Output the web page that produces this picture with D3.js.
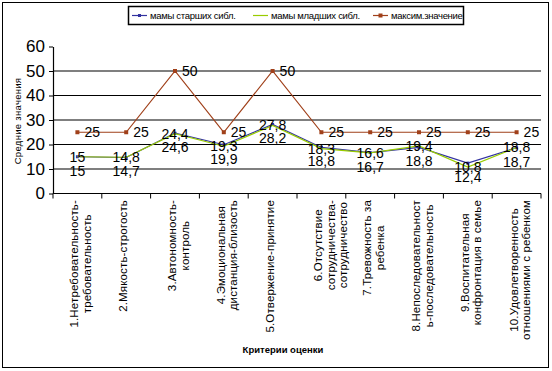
<!DOCTYPE html>
<html>
<head>
<meta charset="utf-8">
<script src="https://cdn.jsdelivr.net/npm/d3@7"></script>
<style>
  body { margin: 0; background: #fff; }
  text { font-family: Arial, "Liberation Sans", sans-serif; }
</style>
</head>
<body>
<svg id="chart" width="552" height="371"></svg>
<script>
// categories (multi-line tick labels)
const categories = [
  ["1.Нетребовательность-", "требовательность"],
  ["2.Мякость-строгость"],
  ["3.Автономность-", "контроль"],
  ["4.Эмоциональная", "дистанция-близость"],
  ["5.Отвержение-принятие"],
  ["6.Отсутствие", "сотрудничества-", "сотрудничество"],
  ["7.Тревожность за", "ребенка"],
  ["8.Непоследовательност", "ь-последовательность"],
  ["9.Воспитательная", "конфронтация в семье"],
  ["10.Удовлетворенность", "отношениями с ребенком"]
];
const olderSibl = [15, 14.7, 24.6, 19.9, 28.2, 18.8, 16.7, 18.8, 12.4, 18.7];
const youngerSibl = [15, 14.8, 24.4, 19.3, 27.8, 18.3, 16.6, 19.4, 10.8, 18.8];
const maxValue = [25, 25, 50, 25, 50, 25, 25, 25, 25, 25];
const yTicks = [0, 10, 20, 30, 40, 50, 60];
const seriesNames = ["мамы старших сибл.", "мамы младших сибл.", "максим.значение"];

const svg = d3.select("#chart");

//outer border
svg.append("rect")
  .attr("x", 2.5).attr("y", 2.5)
  .attr("width", 546).attr("height", 365)
  .attr("fill", "none").attr("stroke", "#000").attr("stroke-width", 1);

const x = d3.scaleBand().domain(d3.range(categories.length)).range([53, 541]);
const y = d3.scaleLinear().domain([0, 60]).range([193.5, 46.5]);
const cx = i => x(i) + x.bandwidth() / 2;

//gridlines
svg.append("g")
  .selectAll("line")
  .data(yTicks.filter(d => d > 0 && d < 60))
  .join("line")
  .attr("x1", 53).attr("x2", 541)
  .attr("y1", d => y(d)).attr("y2", d => y(d))
  .attr("stroke", "#000").attr("stroke-width", 1.2);

//y axis
const yAxis = svg.append("g")
  .attr("transform", "translate(53,0)")
  .call(d3.axisLeft(y).tickValues(yTicks).tickSize(4).tickPadding(4).tickSizeOuter(0));
yAxis.select(".domain").attr("stroke-width", 1.2);
yAxis.selectAll("text").style("font-size", "17px").attr("fill", "#000");

//x axis with boundary ticks
svg.append("line")
  .attr("x1", 53).attr("x2", 541)
  .attr("y1", y(0)).attr("y2", y(0))
  .attr("stroke", "#000").attr("stroke-width", 1.2);
svg.append("g")
  .selectAll("line")
  .data(d3.range(categories.length + 1))
  .join("line")
  .attr("x1", i => i < categories.length ? x(i) : x.range()[1])
  .attr("x2", i => i < categories.length ? x(i) : x.range()[1])
  .attr("y1", y(0)).attr("y2", y(0) + 5)
  .attr("stroke", "#000");

//rotated category labels
const labelTop = 200;
const catG = svg.append("g");
categories.forEach((lines, i) => {
  const t = catG.append("text")
    .attr("text-anchor", "middle")
    .style("font-size", "11.5px")
    .style("letter-spacing", "0.15px")
    .attr("fill", "#000");
  lines.forEach((ln, j) => {
    t.append("tspan")
      .attr("x", 0)
      .attr("dy", j === 0 ? 0 : 12.5)
      .text(ln);
  });
  const maxLen = d3.max(t.selectAll("tspan").nodes(), n => n.getComputedTextLength());
  const off = -(lines.length - 1) * 12.5 / 2 + 4;
  t.attr("transform", `translate(${cx(i) + 1 - off},${labelTop + maxLen / 2}) rotate(-90)`)
    .attr("y", off);
});

//axis titles
svg.append("text")
  .attr("transform", `translate(21,121) rotate(-90)`)
  .attr("text-anchor", "middle")
  .style("font-size", "9.5px")
  .style("letter-spacing", "0.3px")
  .text("Средние значения");
svg.append("text")
  .attr("x", 283).attr("y", 353)
  .attr("text-anchor", "middle")
  .style("font-size", "9.5px")
  .style("font-weight", "bold")
  .text("Критерии оценки");

const line = d3.line().x((d, i) => cx(i)).y(d => y(d));

//max line
svg.append("path").datum(maxValue)
  .attr("d", line).attr("fill", "none")
  .attr("stroke", "#A0401A").attr("stroke-width", 1.2);
svg.append("g").selectAll("rect").data(maxValue).join("rect")
  .attr("x", (d, i) => cx(i) - 2).attr("y", d => y(d) - 2)
  .attr("width", 4).attr("height", 4).attr("fill", "#A0401A");

//older siblings (blue)
svg.append("path").datum(olderSibl)
  .attr("d", line).attr("fill", "none")
  .attr("stroke", "#3333A0").attr("stroke-width", 1.2);
svg.append("g").selectAll("rect").data(olderSibl).join("rect")
  .attr("x", (d, i) => cx(i) - 1.5).attr("y", d => y(d) - 1.5)
  .attr("width", 3).attr("height", 3).attr("fill", "#3333A0");

//younger siblings (green)
svg.append("path").datum(youngerSibl)
  .attr("d", line).attr("fill", "none")
  .attr("stroke", "#99CC00").attr("stroke-width", 1.2);

//data labels
const lblSize = "14px";
svg.append("g").selectAll("text").data(maxValue).join("text")
  .attr("x", (d, i) => cx(i) + 7).attr("y", d => y(d) + 5)
  .style("font-size", lblSize)
  .text(d => String(d).replace(".", ","));
svg.append("g").selectAll("text").data(youngerSibl).join("text")
  .attr("x", (d, i) => cx(i)).attr("y", d => y(d) + 5)
  .attr("text-anchor", "middle")
  .style("font-size", lblSize)
  .text(d => String(d).replace(".", ","));
svg.append("g").selectAll("text").data(olderSibl).join("text")
  .attr("x", (d, i) => cx(i)).attr("y", d => y(d) + 19)
  .attr("text-anchor", "middle")
  .style("font-size", lblSize)
  .text(d => String(d).replace(".", ","));

//legend
const lg = svg.append("g");
lg.append("rect")
  .attr("x", 128.5).attr("y", 6.5).attr("width", 335).attr("height", 18)
  .attr("fill", "#fff").attr("stroke", "#000").attr("stroke-width", 1.5);
const legendItems = [
  { name: seriesNames[0], color: "#3333A0", x: 132, marker: true, size: 3 },
  { name: seriesNames[1], color: "#99CC00", x: 253, marker: false },
  { name: seriesNames[2], color: "#A0401A", x: 373, marker: true, size: 4 }
];
legendItems.forEach(it => {
  lg.append("line")
    .attr("x1", it.x).attr("x2", it.x + 15)
    .attr("y1", 15.5).attr("y2", 15.5)
    .attr("stroke", it.color).attr("stroke-width", 1.2);
  if (it.marker) {
    lg.append("rect")
      .attr("x", it.x + 7.5 - it.size / 2).attr("y", 15.5 - it.size / 2)
      .attr("width", it.size).attr("height", it.size).attr("fill", it.color);
  }
  lg.append("text")
    .attr("x", it.x + 18).attr("y", 19)
    .style("font-size", "9.5px")
    .style("letter-spacing", "-0.3px")
    .text(it.name);
});
</script>
</body>
</html>
